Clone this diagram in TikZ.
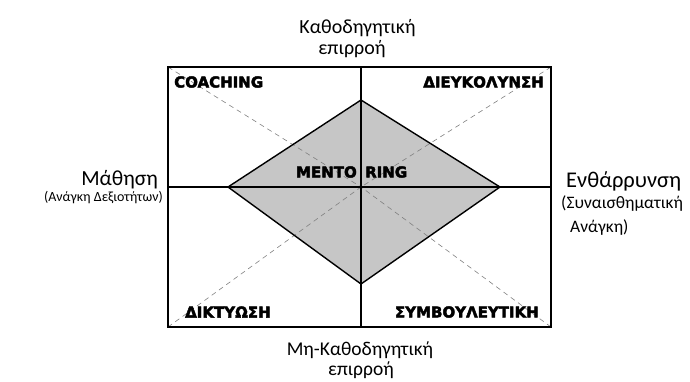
\documentclass[tikz,border=0pt]{standalone}
\usepackage{fontspec}
\setmainfont{Carlito}
\newfontfamily\heavyfont[BoldFeatures={FakeBold=3}]{DejaVu Sans}
\begin{document}
\begin{tikzpicture}[
    x=1pt, y=-1pt,
    quad/.style={font=\heavyfont\bfseries\fontsize{15}{17}\selectfont, inner sep=0pt},
    axis/.style={font=\fontsize{20}{22}\selectfont, inner sep=0pt, anchor=base},
    frame/.style={line width=1.4pt},
    diag/.style={gray, line width=0.6pt, dash pattern=on 5pt off 4pt}
  ]
  \useasboundingbox (0,0) rectangle (690,381);
  % box corners and centre
  \coordinate (tl) at (168,67);
  \coordinate (tr) at (551,67);
  \coordinate (bl) at (168,327);
  \coordinate (br) at (551,327);
  \coordinate (c) at (361,187);
  \coordinate (tm) at (361,67);
  \coordinate (bm) at (361,327);
  \coordinate (lm) at (168,187);
  \coordinate (rm) at (551,187);
  % diamond corners
  \coordinate (dt) at (361,100);
  \coordinate (dl) at (228,187);
  \coordinate (dr) at (500,187);
  \coordinate (db) at (361,284);
  \fill[gray!45] (dt) -- (dr) -- (db) -- (dl) -- cycle;
  \draw[diag] (tl) -- (c);
  \draw[diag] (tr) -- (c);
  \draw[diag] (bl) -- (c);
  \draw[diag] (br) -- (c);
  \draw[frame, line width=1.8pt] (tm) -- (bm);
  \draw[frame, line width=1.8pt] (lm) -- (rm);
  \draw[frame, line join=round] (dt) -- (dr) -- (db) -- (dl) -- cycle;
  \draw[frame] (tl) rectangle (br);
  % quadrant labels
  \node[quad, anchor=west] (coach) at (174,82) {COACHING};
  \node[quad, anchor=east] (facil) at (544,82) {ΔΙΕΥΚΟΛΥΝΣΗ};
  \node[quad, anchor=east] (mento) at (357,172) {MENTO};
  \node[quad, anchor=west] (ring) at (365,172) {RING};
  \node[quad, anchor=west] (net) at (185,312) {ΔΙΚΤΥΩΣΗ};
  \node[quad, anchor=east] (couns) at (539,312) {ΣΥΜΒΟΥΛΕΥΤΙΚΗ};
  % axis labels
  \node[axis] (top1) at (357.5,33) {Καθοδηγητική};
  \node[axis] (top2) at (352,54) {επιρροή};
  \node[axis, font=\fontsize{19.5}{22}\selectfont] (bot1) at (360,355) {Μη-Καθοδηγητική};
  \node[axis, font=\fontsize{19.5}{22}\selectfont] (bot2) at (361,375.5) {επιρροή};
  \node[axis, anchor=base east, font=\fontsize{21.5}{24}\selectfont] (left1) at (158,185.5) {Μάθηση};
  \node[axis, anchor=base east, font=\fontsize{14}{16}\selectfont] (left2) at (163,201.5) {(Ανάγκη Δεξιοτήτων)};
  \node[axis, anchor=base west, font=\fontsize{22.5}{26}\selectfont] (right1) at (566,187) {Ενθάρρυνση};
  \node[axis, anchor=base west, font=\fontsize{17.5}{20}\selectfont] (right2) at (561,208) {(Συναισθηματική};
  \node[axis, anchor=base west, font=\fontsize{17.5}{20}\selectfont] (right3) at (570,232) {Ανάγκη)};
\end{tikzpicture}
\end{document}
